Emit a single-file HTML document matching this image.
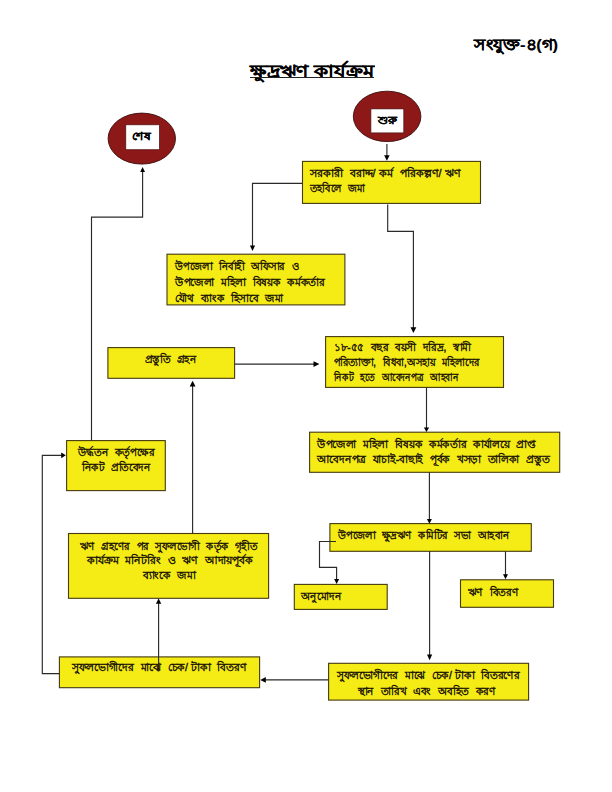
<!DOCTYPE html>
<html><head><meta charset="utf-8"><title>ক্ষুদ্রঋণ কার্যক্রম</title>
<style>
html,body{margin:0;padding:0;background:#fff}
body{width:612px;height:792px;position:relative;overflow:hidden;font-family:"Liberation Sans",sans-serif;color:#1c1405}
svg{position:absolute;left:0;top:0}
.t{position:absolute;white-space:nowrap;transform-origin:0 0;font-size:10.8px;line-height:16px;-webkit-text-stroke:0.45px #1c1405}
.t i{display:inline-block;width:3.5px}
.b{font-weight:bold;color:#000;-webkit-text-stroke:0.15px #000}
</style></head><body>
<svg width="612" height="792" viewBox="0 0 612 792">
<g fill="#f5ec16" stroke="#453a10" stroke-width="1.1">
<rect x="302.5" y="161.4" width="178.0" height="42.0"/>
<rect x="167.0" y="254.2" width="177.9" height="50.7"/>
<rect x="107.9" y="347.6" width="126.7" height="30.7"/>
<rect x="325.6" y="336.6" width="177.9" height="50.8"/>
<rect x="309.6" y="432.2" width="250.1" height="40.1"/>
<rect x="66.6" y="440.6" width="98.7" height="50.0"/>
<rect x="329.9" y="523.6" width="201.4" height="27.7"/>
<rect x="294.3" y="584.4" width="92.9" height="25.0"/>
<rect x="460.5" y="579.8" width="93.0" height="27.5"/>
<rect x="68.5" y="533.5" width="200.1" height="64.8"/>
<rect x="59.4" y="656.9" width="200.2" height="30.8"/>
<rect x="328.6" y="663.3" width="200.0" height="36.8"/>
</g>
<g fill="none" stroke="#2a2a2a" stroke-width="1.15">
<path d="M386.9 144.1 L386.9 156.2"/>
<path d="M302.5 183.3 L252.5 183.3 L252.5 246.5"/>
<path d="M387.7 204.5 L387.7 231.3 L413.4 231.3 L413.4 328.3"/>
<path d="M234.6 364.1 L314.5 364.1"/>
<path d="M426.5 387.4 L426.5 428.4"/>
<path d="M429.4 472.3 L429.4 520.1"/>
<path d="M429.6 551.3 L429.6 655.6"/>
<path d="M505.5 551.3 L505.5 575.2"/>
<path d="M336.0 541.5 L319.5 541.5 L319.5 567.3 L336.6 567.3 L336.6 579.9"/>
<path d="M328.6 679.9 L264.8 679.9"/>
<path d="M158.6 671.6 L158.6 602.7"/>
<path d="M192.6 533.5 L192.6 385.6"/>
<path d="M59.4 673.6 L42.3 673.6 L42.3 455.3 L62.2 455.3"/>
<path d="M91.5 440.6 L91.5 217.1 L142.6 217.1 L142.6 170.9"/>
</g>
<g fill="#000">
<polygon points="386.9,160.8 384.1,155.2 389.6,155.2"/>
<polygon points="252.5,251.1 249.9,245.5 255.1,245.5"/>
<polygon points="413.4,333.1 410.5,327.3 416.3,327.3"/>
<polygon points="319.4,364.1 313.5,361.2 313.5,367.0"/>
<polygon points="426.5,432.0 423.9,427.4 429.1,427.4"/>
<polygon points="429.4,523.8 426.9,519.1 431.9,519.1"/>
<polygon points="429.6,660.2 427.0,654.6 432.2,654.6"/>
<polygon points="505.5,579.2 503.0,574.2 508.0,574.2"/>
<polygon points="336.6,584.0 334.1,578.9 339.1,578.9"/>
<polygon points="260.3,679.9 265.8,677.0 265.8,682.8"/>
<polygon points="158.6,598.5 155.9,603.7 161.3,603.7"/>
<polygon points="192.6,380.7 189.7,386.6 195.5,386.6"/>
<polygon points="65.8,455.3 61.2,452.4 61.2,458.2"/>
<polygon points="142.6,167.1 140.2,171.9 145.0,171.9"/>
</g>
<ellipse cx="387.1" cy="116.4" rx="33.8" ry="25.2" fill="#8c1818" stroke="#3d0c0c" stroke-width="0.9"/>
<rect x="370.9" y="108.9" width="32.9" height="24.0" fill="#fff" stroke="#4a1212" stroke-width="0.7"/>
<ellipse cx="141.8" cy="138.6" rx="33.7" ry="25.5" fill="#8c1818" stroke="#3d0c0c" stroke-width="0.9"/>
<rect x="125.8" y="124.8" width="33.6" height="24.9" fill="#fff" stroke="#4a1212" stroke-width="0.7"/>
</svg>
<div class="t" style="left:310px;top:164.80px;word-spacing:3.83px;transform:scaleX(0.9957)">সরকারী বরাদ্দ/<i></i>কর্ম পরিকল্পণ/<i></i>ঋণ</div>
<div class="t" style="left:310px;top:180.00px;word-spacing:4.62px;transform:scaleX(0.8926)">তহবিলে জমা</div>
<div class="t" style="left:175.3px;top:257.50px;word-spacing:4.48px;transform:scaleX(0.9088)">উপজেলা নির্বাহী অফিসার ও</div>
<div class="t" style="left:175.3px;top:273.60px;word-spacing:4.10px;transform:scaleX(0.9578)">উপজেলা মহিলা বিষয়ক কর্মকর্তার</div>
<div class="t" style="left:175.3px;top:289.80px;word-spacing:4.22px;transform:scaleX(0.9419)">যৌথ ব্যাংক হিসাবে জমা</div>
<div class="t" style="left:145.2px;top:351.30px;word-spacing:4.30px;transform:scaleX(0.9313)">প্রস্তুতি গ্রহন</div>
<div class="t" style="left:333.6px;top:339.30px;word-spacing:4.23px;transform:scaleX(0.9407)">১৮-৫৫ বছর বয়সী দরিদ্র, স্বামী</div>
<div class="t" style="left:333.6px;top:354.20px;word-spacing:4.64px;transform:scaleX(0.8905)">পরিত্যাক্তা, বিধবা,অসহায় মহিলাদের</div>
<div class="t" style="left:333.6px;top:369.00px;word-spacing:5.37px;transform:scaleX(0.8125)">নিকট হতে আবেদনপত্র আহবান</div>
<div class="t" style="left:316.8px;top:436.00px;word-spacing:4.12px;transform:scaleX(0.9544)">উপজেলা মহিলা বিষয়ক কর্মকর্তার কার্যালয়ে প্রাপ্ত</div>
<div class="t" style="left:316.8px;top:451.00px;word-spacing:4.09px;transform:scaleX(0.9593)">আবেদনপত্র যাচাই-বাছাই পূর্বক খসড়া তালিকা প্রস্তুত</div>
<div class="t" style="left:78px;top:444.30px;word-spacing:4.22px;transform:scaleX(0.9419)">উর্দ্ধতন কর্তৃপক্ষের</div>
<div class="t" style="left:81.6px;top:459.30px;word-spacing:4.29px;transform:scaleX(0.9333)">নিকট প্রতিবেদন</div>
<div class="t" style="left:337.5px;top:526.50px;word-spacing:4.45px;transform:scaleX(0.9133)">উপজেলা ক্ষুদ্রঋণ কমিটির সভা আহবান</div>
<div class="t" style="left:301.2px;top:588.00px;word-spacing:0.00px;transform:scaleX(0.9442)">অনুমোদন</div>
<div class="t" style="left:467.5px;top:584.00px;word-spacing:4.21px;transform:scaleX(0.9435)">ঋণ বিতরণ</div>
<div class="t" style="left:80.4px;top:537.70px;word-spacing:4.41px;transform:scaleX(0.9173)">ঋণ গ্রহণের পর সুফলভোগী কর্তৃক গৃহীত</div>
<div class="t" style="left:86.5px;top:552.20px;word-spacing:3.91px;transform:scaleX(0.9844)">কার্যক্রম মনিটরিং ও ঋণ আদায়পূর্বক</div>
<div class="t" style="left:142.5px;top:566.70px;word-spacing:4.14px;transform:scaleX(0.9521)">ব্যাংকে জমা</div>
<div class="t" style="left:72.3px;top:659.20px;word-spacing:4.04px;transform:scaleX(0.9655)">সুফলভোগীদের মাঝে চেক/<i></i>টাকা বিতরণ</div>
<div class="t" style="left:336.8px;top:667.00px;word-spacing:4.11px;transform:scaleX(0.9563)">সুফলভোগীদের মাঝে চেক/<i></i>টাকা বিতরণের</div>
<div class="t" style="left:358.3px;top:682.50px;word-spacing:4.21px;transform:scaleX(0.9427)">স্থান তারিখ এবং অবহিত করণ</div>
<div class="t b" style="left:250.3px;top:59.00px;font-size:16.5px;line-height:25px;transform:scaleX(1.1902)">ক্ষুদ্রঋণ কার্যক্রম</div>
<div class="t b" style="left:474px;top:32.50px;font-size:15.5px;line-height:23px;transform:scaleX(1.0701)">সংযুক্ত-৪(গ)</div>
<div class="t b" style="left:378px;top:111.60px;font-size:11px;line-height:16px;transform:scaleX(1.0588)">শুরু</div>
<div class="t b" style="left:132px;top:128.40px;font-size:11px;line-height:16px;transform:scaleX(1.1176)">শেষ</div>
<div style="position:absolute;left:250px;top:77.1px;width:124px;height:1.1px;background:#222"></div>
</body></html>
